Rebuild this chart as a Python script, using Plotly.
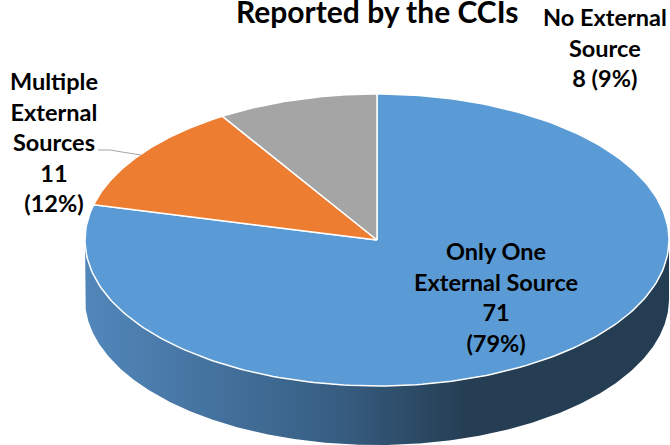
import numpy as np
import plotly.graph_objects as go

categories = ["Only One External Source", "Multiple External Sources", "No External Source"]
values = [71, 11, 8]
top_colors = ["#5B9BD5", "#ED7D31", "#A5A5A5"]
label_text = [
    "Only One<br>External Source<br>71<br>(79%)",
    "Multiple<br>External<br>Sources<br>11<br>(12%)",
    "No External<br>Source<br>8 (9%)",
]
label_x = [496, 54, 605]
label_y = [297, 142, 47]
title_text = "Reported by the CCIs"
side_scale = [[0.0, "rgb(82,135,187)"], [0.43, "rgb(55,94,130)"], [0.65, "rgb(37,62,84)"], [1.0, "rgb(36,61,83)"]]

CX, CY, RX, RY, DEPTH = 377, 240, 292, 146, 59
W, H = 670, 445
FONT = "Lato"
total = sum(values)


def ex(t):
    return CX + RX * np.sin(t)


def ey(t):
    return CY - RY * np.cos(t)


fig = go.Figure()

# Side wall: only the front half is visible
t = np.linspace(np.pi / 2, 3 * np.pi / 2, 400)
fig.add_trace(go.Scatter(x=np.r_[ex(t), ex(t)[::-1]], y=np.r_[ey(t), ey(t)[::-1] + DEPTH],
                         mode="lines", fill="toself", line=dict(width=0),
                         fillgradient=dict(type="horizontal", colorscale=side_scale),
                         hoverinfo="skip", showlegend=False))

# Top slices, clockwise from twelve o'clock
start = 0.0
for name, v, c in zip(categories, values, top_colors):
    end = start + 2 * np.pi * v / total
    t = np.linspace(start, end, 240)
    xs = np.r_[CX, ex(t), CX]
    ys = np.r_[CY, ey(t), CY]
    fig.add_trace(go.Scatter(x=xs, y=ys, mode="lines", fill="toself", fillcolor=c,
                             line=dict(color="white", width=1.5), name=name,
                             hoverinfo="name", showlegend=False))
    start = end

# Leader line of the orange slice
fig.add_trace(go.Scatter(x=[98, 110, 122, 141], y=[150, 150, 152, 155], mode="lines",
                         line=dict(color="#A6A6A6", width=1), hoverinfo="skip", showlegend=False))

ann = [dict(x=x, y=y, text=f"<b>{s}</b>", showarrow=False, xref="x", yref="y",
            xanchor="center", yanchor="middle", align="center",
            font=dict(family=FONT, size=23.5, color="black"))
       for s, x, y in zip(label_text, label_x, label_y)]
ann.append(dict(x=377, y=11, text=f"<b>{title_text}</b>", showarrow=False, xref="x", yref="y",
                xanchor="center", yanchor="middle",
                font=dict(family=FONT, size=30, color="black")))

fig.update_layout(
    width=W, height=H, margin=dict(l=0, r=0, t=0, b=0),
    paper_bgcolor="white", plot_bgcolor="white", annotations=ann, showlegend=False,
    xaxis=dict(range=[0, W], visible=False, fixedrange=True),
    yaxis=dict(range=[H, 0], visible=False, fixedrange=True),
)
fig.write_html("out.html", config=dict(displayModeBar=False),
               post_script="document.body.style.margin='0';document.body.style.overflow='hidden';")
